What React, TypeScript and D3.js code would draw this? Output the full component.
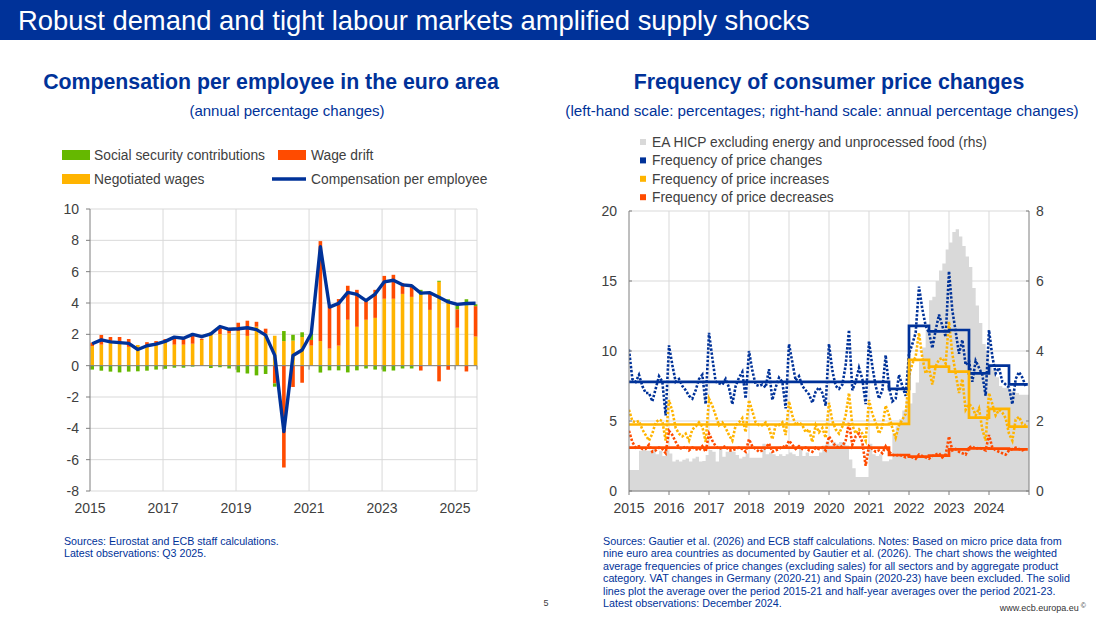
import React from "react";
import * as d3 from "d3";

const FONT = "'Liberation Sans', Arial, Helvetica, sans-serif";
const ECB_BLUE = "#003299";
const YELLOW = "#FFB400";
const RED = "#FF4B00";
const GREEN = "#65B800";
const GREY = "#D9D9D9";
const GRID = "#D9D9D9";
const AXIS = "#7F7F7F";
const TEXT = "#404040";

// ---------- Left chart: compensation per employee (quarterly, 2015Q1-2025Q3) ----------
const quarters = d3.range(2015, 2026).flatMap((y) => [1, 2, 3, 4].map((q) => `${y}Q${q}`)).slice(0, 43);

const negotiatedWages = [
  1.25, 1.34, 1.45, 1.42, 1.2, 1.32, 1.25, 1.4, 1.5, 1.34, 1.34, 1.4, 1.64, 2.13, 2.02, 2.06,
  2.2, 1.9, 2.49, 2.06, 1.91, 1.57, 1.6, 1.83, 1.28, 1.57, 1.09, 1.28, 2.93, 2.48, 2.93, 3.05,
  4.27, 4.27, 4.58, 4.39, 4.52, 3.56, 5.35, 4.05, 2.42, 3.84, 1.86,
];
const wageDrift = [
  0.22, 0.62, 0.38, 0.41, 0.5, 0, 0.25, 0.17, 0.2, 0.51, 0.46, 0.6, 0.08, 0, 0.48, 0.24,
  0.54, 0.97, 0.31, 0.3, -1.13, -6.5, -1.36, -1.09, 0.36, 6.38, 2.69, 2.97, 2.17, 2.36, 1.19, 1.79,
  1.46, 1.53, 0.69, 0.75, -0.31, 1.04, -1.0, -0.26, 1.18, -0.37, 1.94,
];
const socialSecurity = [
  -0.25, -0.32, -0.38, -0.43, -0.38, -0.36, -0.32, -0.25, -0.2, -0.13, -0.13, -0.06, 0, -0.15, -0.1, -0.18,
  -0.43, -0.5, -0.62, -0.53, -0.21, 0.64, 0.37, 0.3, 0.38, -0.44, -0.3, -0.3, -0.43, -0.3, -0.18, -0.25,
  -0.37, -0.31, -0.18, -0.18, 0.32, 0, 0.07, 0.19, 0.25, 0.4, 0.12,
];
const compensation = [
  1.4, 1.65, 1.52, 1.47, 1.42, 1.03, 1.27, 1.38, 1.55, 1.82, 1.75, 2.0, 1.85, 2.03, 2.5, 2.32,
  2.36, 2.42, 2.3, 1.95, 0.66, -4.2, 0.65, 1.0, 2.05, 7.6, 3.74, 3.98, 4.68, 4.55, 4.15, 4.57,
  5.35, 5.45, 5.16, 5.1, 4.63, 4.66, 4.37, 4.07, 3.91, 3.97, 3.98,
];
const leftYearTicks = [2015, 2017, 2019, 2021, 2023, 2025];
const leftValueTicks = [-8, -6, -4, -2, 0, 2, 4, 6, 8, 10];

// ---------- Right chart: frequency of consumer price changes (monthly, 2015-2024) ----------
const freqChanges = [
  10.1, 8.0, 7.8, 8.3, 7.5, 7.0, 7.0, 6.4, 7.3, 8.2, 7.8, 5.4,
  10.4, 9.0, 7.8, 8.0, 7.5, 7.2, 6.8, 6.6, 7.2, 8.0, 8.3, 6.2,
  11.3, 9.5, 7.8, 7.7, 7.6, 8.0, 7.4, 6.2, 7.5, 8.1, 8.5, 6.6,
  10.0, 8.6, 7.6, 7.5, 7.6, 7.4, 8.7, 6.5, 7.4, 8.1, 7.8, 5.9,
  10.5, 9.2, 7.9, 8.2, 7.5, 7.2, 6.9, 6.3, 7.1, 7.4, 7.0, 6.1,
  10.5, 8.6, 7.5, 7.3, 7.6, 9.0, 11.5, 7.2, 7.8, 8.8, 8.0, 6.2,
  10.7, 8.9, 7.5, 6.6, 7.2, 9.7, 7.4, 6.4, 6.6, 8.3, 7.5, 6.8,
  9.8, 10.5, 11.3, 14.6, 13.0, 11.8, 11.3, 10.2, 11.5, 12.6, 11.8, 11.0,
  15.7, 12.9, 11.4, 9.8, 10.8, 9.0, 9.3, 7.8, 9.3, 8.8, 8.3, 6.8,
  11.5, 9.6, 8.4, 8.8, 7.8, 7.6, 7.4, 6.2, 8.0, 8.5, 8.1, 7.5,
];
const freqIncreases = [
  5.8, 5.0, 4.9, 5.0, 4.4, 4.0, 3.6, 4.1, 4.9, 5.1, 5.0, 3.6,
  6.5, 5.7, 4.5, 4.1, 3.9, 4.1, 3.6, 4.4, 4.6, 4.9, 4.6, 3.5,
  6.6, 6.1, 5.4, 4.7, 4.9, 4.5, 4.0, 3.6, 4.7, 4.9, 5.2, 4.2,
  6.5, 5.7, 4.9, 4.7, 4.7, 4.9, 4.5, 3.7, 4.7, 4.7, 4.9, 4.0,
  6.4, 5.4, 4.7, 4.9, 4.7, 4.2, 4.4, 3.5, 4.7, 4.2, 4.5, 3.8,
  6.3, 5.0, 4.4, 4.1, 4.6, 5.4, 7.0, 4.7, 4.1, 4.4, 4.1, 3.6,
  6.5, 5.5, 4.9, 4.1, 4.6, 6.1, 5.4, 4.5, 3.8, 4.7, 5.1, 5.5,
  8.2, 9.1, 9.6, 11.3, 9.5, 8.4, 8.8, 7.6, 8.9, 9.4, 9.5, 9.1,
  12.1, 9.8, 8.4, 7.0, 8.0, 5.8, 6.2, 6.0, 5.4, 5.9, 4.4, 3.6,
  7.0, 6.2, 5.4, 5.8, 5.6, 5.2, 4.1, 3.6, 5.1, 5.3, 4.8, 4.7,
];
const freqDecreases = [
  4.3, 3.5, 3.1, 3.2, 3.0, 3.0, 3.3, 2.8, 2.9, 3.1, 3.0, 2.7,
  4.3, 4.0, 3.5, 3.1, 3.0, 3.2, 2.9, 3.1, 3.0, 2.9, 3.2, 2.8,
  4.1, 3.6, 3.2, 3.0, 3.1, 3.2, 2.9, 2.9, 3.0, 3.1, 3.0, 2.8,
  3.7, 3.2, 3.0, 2.8, 2.9, 3.1, 3.4, 2.8, 2.9, 3.0, 3.2, 3.1,
  3.6, 3.3, 3.0, 3.2, 3.0, 3.1, 2.9, 2.8, 3.1, 3.0, 3.1, 2.9,
  3.9, 3.5, 3.2, 3.1, 3.2, 3.6, 4.9, 3.3, 3.9, 4.1, 3.5, 1.8,
  3.2, 3.0, 2.8, 2.9, 2.7, 3.2, 2.8, 2.6, 2.5, 2.6, 2.5, 2.4,
  2.5, 2.4, 2.3, 2.6, 2.5, 2.4, 2.3, 2.5, 2.6, 2.7, 2.4, 2.6,
  3.9, 2.9, 3.0, 2.8, 2.7, 2.6, 3.1, 3.2, 3.0, 3.1, 3.0, 2.9,
  4.0, 3.1, 2.9, 2.8, 2.7, 2.6, 2.9, 3.0, 3.1, 3.0, 2.9, 3.0,
];
const hicpExEnergyUnprocFood = [
  0.6, 0.6, 0.6, 1.15, 1.17, 1.15, 1.15, 1.2, 1.05, 1.15, 1.0, 1.15,
  1.07, 0.84, 0.89, 0.84, 0.89, 0.93, 0.84, 0.93, 0.98, 0.84, 0.86, 1.03,
  1.17, 1.12, 0.84, 1.27, 0.98, 1.12, 1.14, 1.12, 1.03, 0.93, 0.98, 1.07,
  0.95, 0.95, 0.95, 0.95, 1.35, 1.05, 1.1, 1.05, 1.0, 1.05, 1.0, 1.05,
  1.1, 1.05, 1.0, 1.2, 1.0, 1.1, 1.0, 1.0, 1.0, 1.1, 1.3, 1.4,
  1.3, 1.4, 1.35, 1.4, 1.4, 1.3, 0.9, 0.65, 0.4, 0.4, 0.4, 0.4,
  1.35, 1.05, 1.0, 1.05, 0.85, 0.85, 0.9, 1.65, 1.85, 2.05, 2.3, 2.6,
  2.5, 2.8, 3.1, 3.7, 4.1, 4.6, 5.45, 5.55, 6.0, 6.3, 6.5, 6.9,
  7.1, 7.4, 7.48, 7.27, 7.0, 6.7, 6.4, 5.8, 5.3, 4.8, 4.2, 4.0,
  3.55, 3.45, 3.25, 3.0, 2.95, 2.95, 2.9, 2.85, 2.8, 2.75, 2.75, 2.75,
];
// period averages: 2015-21H1 average, then half-year averages
const avgPeriodStarts = [2015, 2021.5, 2022, 2022.5, 2023, 2023.5, 2024, 2024.5];
const avgChanges = [7.8, 7.3, 11.8, 11.4, 11.5, 8.4, 8.95, 7.62];
const avgIncreases = [4.75, 4.8, 9.36, 8.88, 8.52, 5.24, 5.86, 4.6];
const avgDecreases = [3.1, 2.57, 2.45, 2.52, 2.98, 3.05, 3.02, 2.98];
const rightYearTicks = [2015, 2016, 2017, 2018, 2019, 2020, 2021, 2022, 2023, 2024];
const rightLeftTicks = [0, 5, 10, 15, 20];
const rightRightTicks = [0, 2, 4, 6, 8];

const footRight = [
  "Sources: Gautier et al. (2026) and ECB staff calculations. Notes: Based on micro price data from",
  "nine euro area countries as documented by Gautier et al. (2026). The chart shows the weighted",
  "average frequencies of price changes (excluding sales) for all sectors and by aggregate product",
  "category. VAT changes in Germany (2020-21) and Spain (2020-23) have been excluded. The solid",
  "lines plot the average over the period 2015-21 and half-year averages over the period 2021-23.",
  "Latest observations: December 2024.",
];

const LEG = 13.8;

function LeftChart() {
  const x = d3.scaleLinear().domain([2015, 2025.6]).range([90, 477]);
  const y = d3.scaleLinear().domain([-8, 10]).range([491, 209]);
  const qx = (i: number) => x(2015 + i / 4) + 2.2;
  const rows = quarters.map((q, i) => ({
    q,
    negotiated: negotiatedWages[i],
    drift: wageDrift[i],
    social: socialSecurity[i],
  }));
  const stack = d3
    .stack<any>()
    .keys(["negotiated", "drift", "social"])
    .offset(d3.stackOffsetDiverging)(rows);
  const colors: Record<string, string> = { negotiated: YELLOW, drift: RED, social: GREEN };
  const line = d3
    .line<number>()
    .x((_, i) => qx(i))
    .y((d) => y(d));
  const bw = 3.6;
  return (
    <g>
      {leftValueTicks.map((t) => (
        <line key={"hg" + t} x1={90} x2={477} y1={y(t)} y2={y(t)} stroke={GRID} strokeWidth={1} />
      ))}
      {leftYearTicks.slice(1).map((t) => (
        <line key={"vg" + t} x1={x(t)} x2={x(t)} y1={209} y2={491} stroke={GRID} strokeWidth={1} />
      ))}
      <line x1={477} x2={477} y1={209} y2={491} stroke={GRID} strokeWidth={1} />
      {stack.map((layer) => (
        <g key={layer.key} fill={colors[layer.key]}>
          {layer.map((d, i) => {
            const y0 = y(d[0]);
            const y1 = y(d[1]);
            const h = Math.abs(y0 - y1);
            if (h < 0.01) return null;
            return <rect key={i} x={qx(i) - bw / 2} y={Math.min(y0, y1)} width={bw} height={h} />;
          })}
        </g>
      ))}
      <line x1={90} x2={477} y1={y(0)} y2={y(0)} stroke={AXIS} strokeWidth={1} />
      {[...leftYearTicks, 2025.6].map((t) => (
        <line key={"xt" + t} x1={x(t)} x2={x(t)} y1={y(0)} y2={y(0) + 4} stroke={AXIS} strokeWidth={1} />
      ))}
      <line x1={90} x2={90} y1={209} y2={491} stroke={AXIS} strokeWidth={1} />
      {leftValueTicks.map((t) => (
        <line key={"yt" + t} x1={86} x2={90} y1={y(t)} y2={y(t)} stroke={AXIS} strokeWidth={1} />
      ))}
      <path d={line(compensation) || ""} fill="none" stroke={ECB_BLUE} strokeWidth={3.4} strokeLinejoin="round" />
      {leftValueTicks.map((t) => (
        <text key={"yl" + t} x={79} y={y(t) + 5} textAnchor="end" fontSize={14} fill={TEXT}>
          {t}
        </text>
      ))}
      {leftYearTicks.map((t) => (
        <text key={"xl" + t} x={x(t)} y={513} textAnchor="middle" fontSize={14} fill={TEXT}>
          {t}
        </text>
      ))}
      {/* legend */}
      <rect x={62} y={150} width={28} height={10} fill={GREEN} />
      <text x={94} y={160} fontSize={LEG} fill={TEXT}>Social security contributions</text>
      <rect x={278} y={150} width={28} height={10} fill={RED} />
      <text x={311} y={160} fontSize={LEG} fill={TEXT}>Wage drift</text>
      <rect x={62} y={174} width={28} height={10} fill={YELLOW} />
      <text x={94} y={184} fontSize={LEG} fill={TEXT}>Negotiated wages</text>
      <line x1={272} x2={306} y1={179} y2={179} stroke={ECB_BLUE} strokeWidth={3.4} />
      <text x={311} y={184} fontSize={LEG} fill={TEXT}>Compensation per employee</text>
    </g>
  );
}

function RightChart() {
  const x = d3.scaleLinear().domain([2015, 2025]).range([629, 1029]);
  const y = d3.scaleLinear().domain([0, 20]).range([491, 211]);
  const y2 = d3.scaleLinear().domain([0, 8]).range([491, 211]);
  const mt = (m: number) => 2015 + m / 12;
  const hicpPts = [...hicpExEnergyUnprocFood.map((v, m) => [mt(m), v]), [2025, hicpExEnergyUnprocFood[119]]];
  const area = d3
    .area<number[]>()
    .x((d) => x(d[0]))
    .y0(y2(0))
    .y1((d) => y2(d[1]))
    .curve(d3.curveStepAfter);
  const dotted = d3
    .line<number>()
    .x((_, m) => x(mt(m)))
    .y((d) => y(d));
  const step = (vals: number[]) =>
    d3
      .line<number[]>()
      .x((d) => x(d[0]))
      .y((d) => y(d[1]))
      .curve(d3.curveStepAfter)([...avgPeriodStarts.map((t, i) => [t, vals[i]]), [2024.97, vals[vals.length - 1]]]) || "";
  const dash = "2.4 1.7";
  return (
    <g>
      <defs>
        <clipPath id="rclip">
          <rect x={629} y={205} width={400} height={286} />
        </clipPath>
      </defs>
      {rightLeftTicks.map((t) => (
        <line key={"hg" + t} x1={629} x2={1029} y1={y(t)} y2={y(t)} stroke={GRID} strokeWidth={1} />
      ))}
      {rightYearTicks.slice(1).map((t) => (
        <line key={"vg" + t} x1={x(t)} x2={x(t)} y1={211} y2={491} stroke={GRID} strokeWidth={1} />
      ))}
      <g clipPath="url(#rclip)">
        <path d={area(hicpPts) || ""} fill={GREY} />
        <path d={dotted(freqChanges) || ""} fill="none" stroke={ECB_BLUE} strokeWidth={2.6} strokeDasharray={dash} />
        <path d={dotted(freqIncreases) || ""} fill="none" stroke={YELLOW} strokeWidth={2.6} strokeDasharray={dash} />
        <path d={dotted(freqDecreases) || ""} fill="none" stroke={RED} strokeWidth={2.6} strokeDasharray={dash} />
        <path d={step(avgChanges)} fill="none" stroke={ECB_BLUE} strokeWidth={2.7} />
        <path d={step(avgIncreases)} fill="none" stroke={YELLOW} strokeWidth={2.7} />
        <path d={step(avgDecreases)} fill="none" stroke={RED} strokeWidth={2.7} />
      </g>
      <line x1={629} x2={629} y1={211} y2={491} stroke={AXIS} strokeWidth={1} />
      <line x1={1029} x2={1029} y1={211} y2={491} stroke={AXIS} strokeWidth={1} />
      <line x1={629} x2={1029} y1={491} y2={491} stroke={AXIS} strokeWidth={1} />
      {rightLeftTicks.map((t) => (
        <line key={"lt" + t} x1={629} x2={632} y1={y(t)} y2={y(t)} stroke={AXIS} strokeWidth={1} />
      ))}
      {rightRightTicks.map((t) => (
        <line key={"rt" + t} x1={1026} x2={1029} y1={y2(t)} y2={y2(t)} stroke={AXIS} strokeWidth={1} />
      ))}
      {[...rightYearTicks, 2025].map((t) => (
        <line key={"xt" + t} x1={x(t)} x2={x(t)} y1={491} y2={495} stroke={AXIS} strokeWidth={1} />
      ))}
      {rightLeftTicks.map((t) => (
        <text key={"ll" + t} x={617} y={y(t) + 5} textAnchor="end" fontSize={14} fill={TEXT}>
          {t}
        </text>
      ))}
      {rightRightTicks.map((t) => (
        <text key={"rl" + t} x={1036} y={y2(t) + 5} textAnchor="start" fontSize={14} fill={TEXT}>
          {t}
        </text>
      ))}
      {rightYearTicks.map((t) => (
        <text key={"xl" + t} x={x(t)} y={513} textAnchor="middle" fontSize={14} fill={TEXT}>
          {t}
        </text>
      ))}
      {/* legend */}
      {[
        { c: GREY, t: "EA HICP excluding energy and unprocessed food (rhs)" },
        { c: ECB_BLUE, t: "Frequency of price changes" },
        { c: YELLOW, t: "Frequency of price increases" },
        { c: RED, t: "Frequency of price decreases" },
      ].map((d, i) => (
        <g key={d.t}>
          <rect x={640} y={139 + i * 18.4} width={6} height={6} fill={d.c} />
          <text x={652} y={147 + i * 18.4} fontSize={LEG} fill={TEXT}>
            {d.t}
          </text>
        </g>
      ))}
    </g>
  );
}

export default function App() {
  return (
    <div style={{ position: "absolute", left: 0, top: 0, width: 1096, height: 617, background: "#fff" }}>
      <svg width={1096} height={617} style={{ display: "block", fontFamily: FONT }}>
        <rect x={0} y={0} width={1096} height={617} fill="#fff" />
        <rect x={0} y={0} width={1096} height={40} fill={ECB_BLUE} />
        <text x={18} y={30} fontSize={27.4} fill="#fff">
          Robust demand and tight labour markets amplified supply shocks
        </text>
        <text x={271} y={89} textAnchor="middle" fontSize={21.3} fontWeight="bold" fill={ECB_BLUE}>
          Compensation per employee in the euro area
        </text>
        <text x={287} y={116} textAnchor="middle" fontSize={15} fill={ECB_BLUE}>
          (annual percentage changes)
        </text>
        <text x={829} y={89} textAnchor="middle" fontSize={21.3} fontWeight="bold" fill={ECB_BLUE}>
          Frequency of consumer price changes
        </text>
        <text x={822} y={116} textAnchor="middle" fontSize={15.2} fill={ECB_BLUE}>
          (left-hand scale: percentages; right-hand scale: annual percentage changes)
        </text>
        <LeftChart />
        <RightChart />
        <text x={64} y={545} fontSize={10.67} fill={ECB_BLUE}>Sources: Eurostat and ECB staff calculations.</text>
        <text x={64} y={557} fontSize={10.67} fill={ECB_BLUE}>Latest observations: Q3 2025.</text>
        {footRight.map((t, i) => (
          <text key={i} x={603} y={545 + i * 12.4} fontSize={10.75} fill={ECB_BLUE}>
            {t}
          </text>
        ))}
        <text x={546} y={606} fontSize={9} fill={TEXT} textAnchor="middle">5</text>
        <text x={1086} y={611} fontSize={9} fill="#333" textAnchor="end">
          www.ecb.europa.eu
          <tspan fontSize={7} dy={-3}> ©</tspan>
        </text>
      </svg>
    </div>
  );
}
